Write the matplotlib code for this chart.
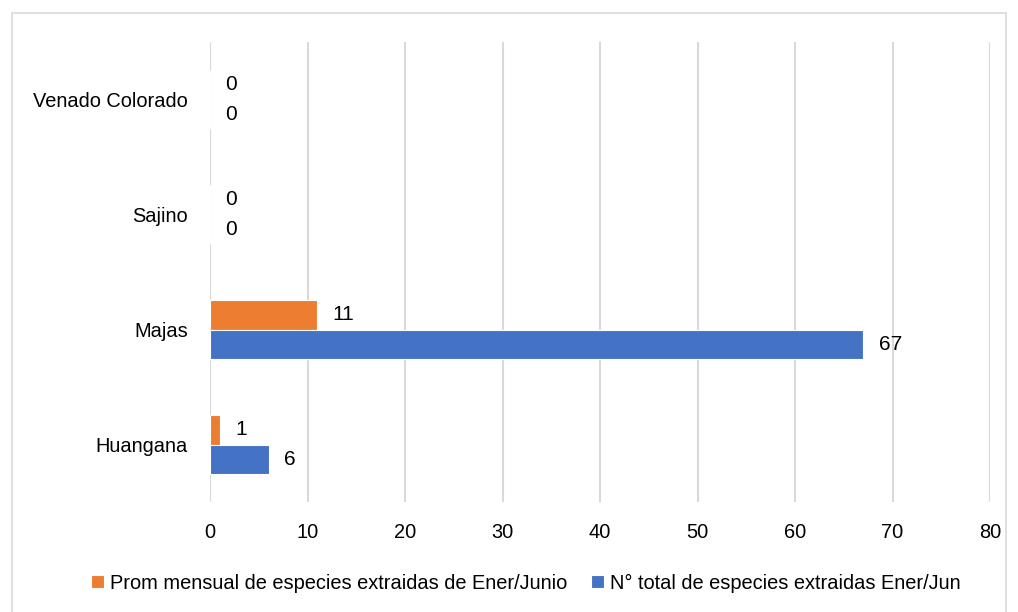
import matplotlib.pyplot as plt
from matplotlib.patches import Rectangle
import numpy as np

# Datos
especies = ["Huangana", "Majas", "Sajino", "Venado Colorado"]
prom_mensual = [1, 11, 0, 0]
total_extraidas = [6, 67, 0, 0]
etiquetas = ["Prom mensual de especies extraidas de Ener/Junio",
             "N° total de especies extraidas Ener/Jun"]
ticks_x = [0, 10, 20, 30, 40, 50, 60, 70, 80]

plt.rcParams['font.family'] = ['Liberation Sans', 'DejaVu Sans']

naranja = "#ED7D31"
azul = "#4472C4"
gris = "#D9D9D9"
fs = 14.4

fig = plt.figure(figsize=(10.18, 6.12), dpi=100)
ax = fig.add_axes([210/1018, 1 - 502/612, 780/1018, 460/612])

# borde exterior
fig.patches.append(Rectangle((12/1018, -0.05), 994/1018, 1 - 13/612 + 0.05,
                             transform=fig.transFigure, fill=False,
                             edgecolor=gris, linewidth=1.2))

y = np.arange(len(especies))
h = 0.26
b1 = ax.barh(y + h/2, prom_mensual, height=h, color=naranja, edgecolor="white",
             linewidth=0.8, label=etiquetas[0], zorder=3)
b2 = ax.barh(y - h/2, total_extraidas, height=h, color=azul, edgecolor="white",
             linewidth=0.8, label=etiquetas[1], zorder=3)

for barras, vals in [(b1, prom_mensual), (b2, total_extraidas)]:
    for rect, v in zip(barras, vals):
        ax.annotate(str(v), (rect.get_width(), rect.get_y() + rect.get_height()/2),
                    xytext=(11, 0), textcoords="offset points",
                    ha="left", va="center", fontsize=fs + 0.6)

ax.set_xlim(0, 80)
ax.set_ylim(-0.5, len(especies) - 0.5)
ax.set_xticks(ticks_x)
ax.set_yticks(y)
ax.set_yticklabels(especies)
ax.tick_params(axis="both", length=0, labelsize=fs)
ax.tick_params(axis="x", pad=15)
ax.tick_params(axis="y", pad=16)
ax.grid(axis="x", color=gris, linewidth=1.5, zorder=0)
for s in ax.spines.values():
    s.set_visible(False)

fig.legend(handles=[b1, b2], loc="center", bbox_to_anchor=(526/1018, 1 - 583/612),
           ncol=2, frameon=False, fontsize=fs, handlelength=0.65, handleheight=0.65,
           handletextpad=0.3, columnspacing=1.2)

plt.savefig("out.png", dpi=100)
